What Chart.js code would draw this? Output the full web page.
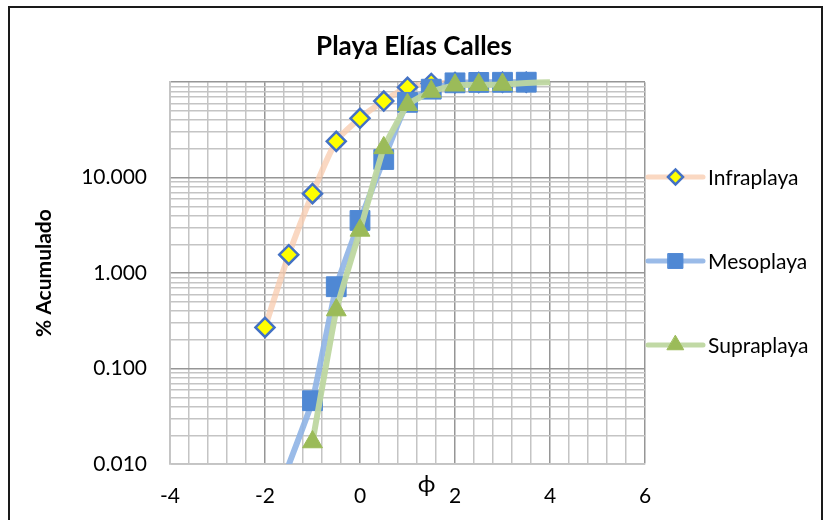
<!DOCTYPE html>
<html>
<head>
<meta charset="utf-8">
<script src="https://cdn.jsdelivr.net/npm/chart.js@4.4.0/dist/chart.umd.min.js"></script>
<style>
  html, body { margin: 0; padding: 0; background: #fff; }
  #wrap { width: 828px; height: 520px; position: relative; }
</style>
</head>
<body>
<div id="wrap"><canvas id="c" width="828" height="520"></canvas></div>
<script>
/* ── Data ── */

const infraPhi = [-2, -1.5, -1, -0.5, 0, 0.5, 1, 1.5, 2, 2.5, 3, 3.5];
const infraPct = [0.27, 1.56, 6.8, 24.0, 41.9, 63.5, 88.5, 97.0, 99.0, 99.5, 99.8, 100];

const mesoPhi = [-1.5, -1, -0.5, 0, 0.5, 1, 1.5, 2, 2.5, 3, 3.5];
const mesoPct = [0.0098, 0.046, 0.72, 3.56, 15.5, 61.5, 84.5, 98.5, 99.5, 99.8, 100];

const supraPhi = [-1, -0.5, 0, 0.5, 1, 1.5, 2, 2.5, 3, 3.5, 4];
const supraPct = [0.017, 0.41, 2.8, 20.5, 58, 80, 93, 94, 94.5, 98, 100];

const xLabels  = [-4, -2, 0, 2, 4, 6];
const yDecades = [0.01, 0.1, 1, 10, 100];
const ySteps   = [1, 2, 3, 4, 5, 6, 7, 8, 9];

const pts = (xs, ys) => xs.map((x, i) => ({ x, y: ys[i] }));

const GRID_MINOR = 'rgb(196,196,196)';
const GRID_MAJOR = 'rgb(150,150,150)';
const FONT = "Lato, 'DejaVu Sans', sans-serif";
const CLIP = { left: 15, top: 15, right: 15, bottom: 0 };

const isXMajor = v => xLabels.some(l => Math.abs(l - v) < 1e-6);
const isDecade = v => yDecades.some(d => Math.abs(d - v) / d < 1e-6);

/* ── Decorations: frame, legend with line + marker, ϕ label ── */

function markerPath(ctx, style, x, y, r) {
    ctx.beginPath();
    if (style === 'rectRot') {
        ctx.moveTo(x - r, y); ctx.lineTo(x, y - r); ctx.lineTo(x + r, y); ctx.lineTo(x, y + r);
    } else if (style === 'rect') {
        const s = r * Math.SQRT1_2;
        ctx.rect(x - s, y - s, 2 * s, 2 * s);
    } else {
        ctx.moveTo(x, y - r);
        ctx.lineTo(x + r * Math.sin(2 * Math.PI / 3), y - r * Math.cos(2 * Math.PI / 3));
        ctx.lineTo(x + r * Math.sin(4 * Math.PI / 3), y - r * Math.cos(4 * Math.PI / 3));
    }
    ctx.closePath();
}

const legendY = [177, 261, 345];

const decor = {
    id: 'decor',
    afterDraw(chart) {
        const ctx = chart.ctx;
        const area = chart.chartArea;
        ctx.save();

        // outer frame
        ctx.strokeStyle = '#1a1a1a';
        ctx.lineWidth = 2;
        ctx.strokeRect(9, 7, 813, 530);

        // legend
        chart.data.datasets.forEach((ds, i) => {
            const y  = legendY[i];
            const x0 = area.right + 3, x1 = area.right + 58, xm = (x0 + x1) / 2;
            ctx.strokeStyle = ds.borderColor;
            ctx.lineWidth = 5;
            ctx.lineCap = 'round';
            ctx.beginPath(); ctx.moveTo(x0, y); ctx.lineTo(x1, y); ctx.stroke();

            markerPath(ctx, ds.pointStyle, xm, y, ds.legendRadius);
            ctx.fillStyle = ds.pointBackgroundColor;
            ctx.fill();
            ctx.lineWidth = ds.pointBorderWidth;
            ctx.strokeStyle = ds.pointBorderColor;
            ctx.stroke();

            ctx.fillStyle = '#000';
            ctx.font = '21px ' + FONT;
            ctx.textAlign = 'left';
            ctx.textBaseline = 'middle';
            ctx.fillText(ds.label, x1 + 5, y + 1);
        });

        // x axis title, Excel places it just under the axis
        ctx.fillStyle = '#000';
        ctx.font = '24px ' + FONT;
        ctx.textAlign = 'center';
        ctx.textBaseline = 'middle';
        ctx.fillText('ϕ', chart.scales.x.getPixelForValue(1.4), area.bottom + 20);

        ctx.restore();
    }
};

/* ── Chart ── */

new Chart(document.getElementById('c'), {
    type: 'line',
    data: {
        datasets: [
            {
                label:                'Infraplaya',
                data:                 pts(infraPhi, infraPct),
                borderColor:          'rgba(248,203,173,0.75)',
                borderWidth:          6,
                pointStyle:           'rectRot',
                pointRadius:          9.5,
                legendRadius:         7.5,
                pointBackgroundColor: '#FFFF00',
                pointBorderColor:     '#4472C4',
                pointBorderWidth:     2.5,
                tension:              0.25,
                clip:                 CLIP,
                order:                3,
            },
            {
                label:                'Mesoplaya',
                data:                 pts(mesoPhi, mesoPct),
                borderColor:          'rgba(143,180,230,0.9)',
                borderWidth:          6,
                pointStyle:           'rect',
                pointRadius:          c => (c.raw && c.raw.y < 0.01 ? 0 : 14),
                legendRadius:         10.5,
                pointBackgroundColor: '#4F88D4',
                pointBorderColor:     '#4F88D4',
                pointBorderWidth:     1,
                tension:              0.1,
                clip:                 CLIP,
                order:                2,
            },
            {
                label:                'Supraplaya',
                data:                 pts(supraPhi, supraPct),
                borderColor:          'rgba(190,215,160,0.95)',
                borderWidth:          6,
                pointStyle:           'triangle',
                pointRadius:          c => (c.raw && c.raw.x > 3.2 ? 0 : 11.5),
                legendRadius:         9.5,
                pointBackgroundColor: '#9BBB59',
                pointBorderColor:     '#9BBB59',
                pointBorderWidth:     1,
                tension:              0.1,
                clip:                 CLIP,
                order:                1,
            },
        ],
    },
    options: {
        responsive: false,
        animation:  false,
        events:     [],
        layout: { padding: { top: 31, left: 0, right: 0, bottom: 0 } },
        font:   { family: FONT },
        plugins: {
            legend:  { display: false },
            tooltip: { enabled: false },
            title: {
                display: true,
                text:    'Playa Elías Calles',
                color:   '#000',
                font:    { family: FONT, size: 26, weight: 'bold' },
                padding: { top: 0, bottom: 20 },
            },
        },
        scales: {
            x: {
                type: 'linear',
                min:  -4,
                max:  6,
                afterBuildTicks: s => {
                    const t = [];
                    for (let i = 0; i < xLabels.length - 1; i++) {
                        for (let k = 0; k < 5; k++) t.push({ value: xLabels[i] + k * (xLabels[i + 1] - xLabels[i]) / 5 });
                    }
                    t.push({ value: xLabels[xLabels.length - 1] });
                    s.ticks = t;
                },
                ticks: {
                    autoSkip:    false,
                    maxRotation: 0,
                    padding:     20,
                    color:       '#000',
                    font:        { family: FONT, size: 21 },
                    callback:    v => (isXMajor(v) ? String(Math.round(v)) : ''),
                },
                grid: {
                    drawTicks: false,
                    lineWidth: 1.5,
                    color:     c => (c.tick && isXMajor(c.tick.value) ? GRID_MAJOR : GRID_MINOR),
                },
                border:   { color: GRID_MINOR, width: 1.5 },
                afterFit: s => { s.height = 56; },
            },
            y: {
                type: 'logarithmic',
                min:  0.01,
                max:  100,
                afterBuildTicks: s => {
                    const t = [];
                    yDecades.forEach(d => ySteps.forEach(k => { if (d * k <= 100.0001) t.push({ value: d * k }); }));
                    s.ticks = t;
                },
                ticks: {
                    autoSkip: false,
                    padding:  23,
                    color:    '#000',
                    font:     { family: FONT, size: 21 },
                    callback: v => (isDecade(v) && v < 99 ? v.toFixed(3) : ''),
                },
                grid: {
                    drawTicks: false,
                    lineWidth: 1.5,
                    color:     c => (c.tick && isDecade(c.tick.value) ? GRID_MAJOR : GRID_MINOR),
                },
                border: { color: GRID_MINOR, width: 1.5 },
                title: {
                    display: true,
                    text:    '% Acumulado',
                    color:   '#000',
                    font:    { family: FONT, size: 21, weight: 'bold' },
                    padding: { top: 32, bottom: 0 },
                },
                afterFit: s => { s.width = 170; },
            },
            // empty right-hand box that leaves room for the legend
            legendSpace: {
                type:     'linear',
                position: 'right',
                display:  true,
                grid:     { display: false, drawTicks: false },
                ticks:    { display: false },
                border:   { display: false },
                afterFit: s => { s.width = 183; },
            },
        },
    },
    plugins: [decor],
});
</script>
</body>
</html>
